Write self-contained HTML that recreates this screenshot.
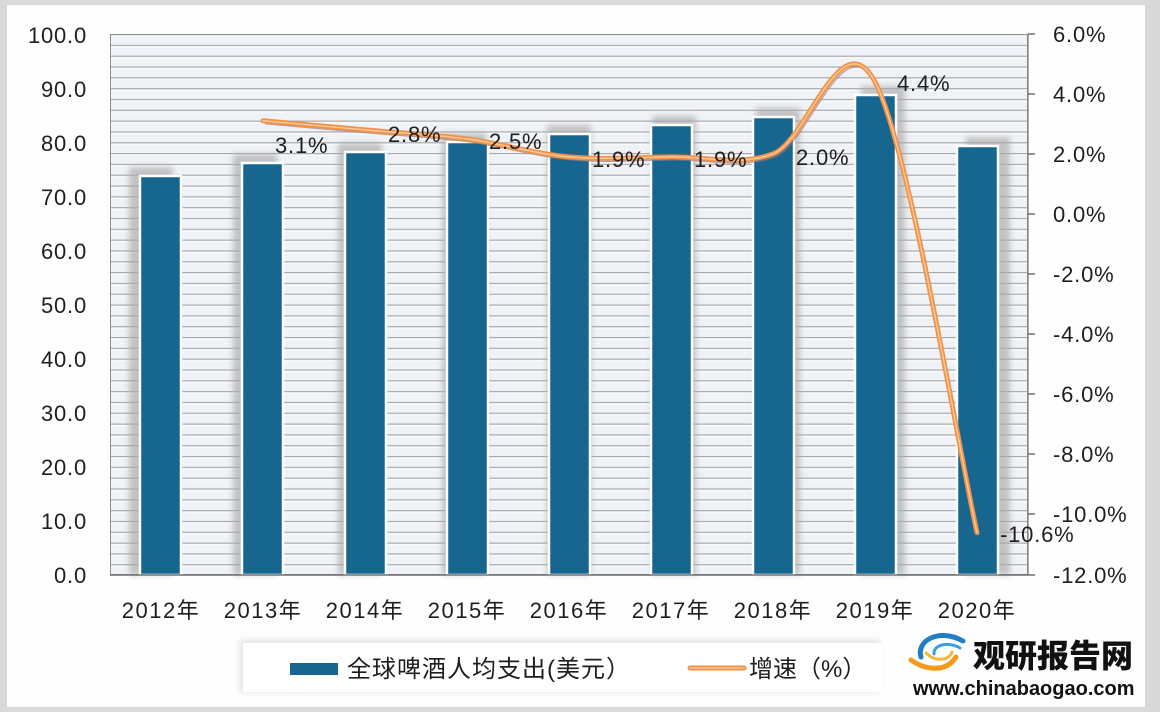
<!DOCTYPE html>
<html>
<head>
<meta charset="utf-8">
<style>
  html, body { margin: 0; padding: 0; background: #d9d9d9; }
  svg { display: block; }
  text { font-family: "Liberation Sans", "Noto Sans CJK SC", sans-serif; fill: #1e1e1e; }
</style>
</head>
<body>
<svg width="1160" height="712" viewBox="0 0 1160 712" xmlns="http://www.w3.org/2000/svg">
  <defs>
    <filter id="blur" x="-50%" y="-10%" width="200%" height="120%">
      <feGaussianBlur stdDeviation="3"/>
    </filter>
    <filter id="lshadow" x="-10%" y="-50%" width="120%" height="200%">
      <feGaussianBlur stdDeviation="3"/>
    </filter>
    <pattern id="grid" x="110" y="34" width="20" height="10.82" patternUnits="userSpaceOnUse">
      <rect width="20" height="10.82" fill="#eff2f6"/>
      <rect y="0" width="20" height="1.3" fill="#a6a8ab"/>
      <rect y="1.3" width="20" height="1.5" fill="#fbfbfc"/>
    </pattern>
  </defs>

  <!-- outer frame + card -->
  <rect x="0" y="0" width="1160" height="712" fill="#d9d9d9"/>
  <rect x="7" y="5" width="1138" height="702" fill="#fefefe"/>

  <!-- plot area -->
  <rect x="110" y="34" width="918" height="541" fill="url(#grid)"/>
  <rect x="110.5" y="34.5" width="917" height="540" fill="none" stroke="#8f9194" stroke-width="1"/>

  <!-- bar shadows -->
  <g fill="#a9a9a9" filter="url(#blur)" opacity="0.65">
    <rect x="129" y="167" width="44" height="408"/>
    <rect x="233" y="154" width="44" height="421"/>
    <rect x="338" y="143" width="44" height="432"/>
    <rect x="442" y="133" width="44" height="442"/>
    <rect x="547" y="125" width="44" height="450"/>
    <rect x="652" y="116" width="44" height="459"/>
    <rect x="756" y="108" width="44" height="467"/>
    <rect x="861" y="86" width="44" height="489"/>
    <rect x="966" y="137" width="44" height="438"/>
  </g>

  <!-- bars -->
  <g fill="#16668f" stroke="#ffffff" stroke-width="2.5">
    <rect x="140" y="176" width="41" height="399"/>
    <rect x="242" y="163" width="41" height="412"/>
    <rect x="345" y="152" width="41" height="423"/>
    <rect x="447" y="142" width="41" height="433"/>
    <rect x="549" y="134" width="41" height="441"/>
    <rect x="651" y="125" width="41" height="450"/>
    <rect x="753" y="117" width="41" height="458"/>
    <rect x="855" y="95" width="41" height="480"/>
    <rect x="957" y="146" width="41" height="429"/>
  </g>

  <!-- bottom axis -->
  <line x1="110" y1="575" x2="1028" y2="575" stroke="#6e6e6e" stroke-width="1.5"/>
  <!-- right axis -->
  <line x1="1028" y1="34" x2="1028" y2="575" stroke="#7d7d7d" stroke-width="1.2"/>
  <g stroke="#6e6e6e" stroke-width="1.5">
    <line x1="1028" y1="34" x2="1035" y2="34"/>
    <line x1="1028" y1="94" x2="1035" y2="94"/>
    <line x1="1028" y1="154" x2="1035" y2="154"/>
    <line x1="1028" y1="214" x2="1035" y2="214"/>
    <line x1="1028" y1="274" x2="1035" y2="274"/>
    <line x1="1028" y1="334" x2="1035" y2="334"/>
    <line x1="1028" y1="394" x2="1035" y2="394"/>
    <line x1="1028" y1="454" x2="1035" y2="454"/>
    <line x1="1028" y1="514" x2="1035" y2="514"/>
    <line x1="1028" y1="575" x2="1035" y2="575"/>
  </g>

  <!-- growth line -->
  <path d="M263,120.8 C280,122.3 331,126.9 365,129.9 C399,132.9 433,134.4 467,138.9 C501,143.4 535,153.9 569,156.9 C603,159.9 637,157.4 671,156.9 C705,156.4 739,166.4 773,153.9 C807,141.4 841,18.7 875,81.8 C909,144.9 960,457.4 977,532.5"
        fill="none" stroke="#9a7b86" stroke-width="1.2" opacity="0.7" transform="translate(2,3)"/>
  <path d="M263,120.8 C280,122.3 331,126.9 365,129.9 C399,132.9 433,134.4 467,138.9 C501,143.4 535,153.9 569,156.9 C603,159.9 637,157.4 671,156.9 C705,156.4 739,166.4 773,153.9 C807,141.4 841,18.7 875,81.8 C909,144.9 960,457.4 977,532.5"
        fill="none" stroke="#f0924a" stroke-width="5" stroke-linecap="round"/>
  <path d="M263,120.8 C280,122.3 331,126.9 365,129.9 C399,132.9 433,134.4 467,138.9 C501,143.4 535,153.9 569,156.9 C603,159.9 637,157.4 671,156.9 C705,156.4 739,166.4 773,153.9 C807,141.4 841,18.7 875,81.8 C909,144.9 960,457.4 977,532.5"
        fill="none" stroke="#fbc894" stroke-width="1.5" stroke-linecap="round"/>

  <!-- data labels -->
  <g font-size="22" letter-spacing="0.8">
    <text x="275" y="153">3.1%</text>
    <text x="388" y="142">2.8%</text>
    <text x="489" y="149">2.5%</text>
    <text x="592" y="167">1.9%</text>
    <text x="694" y="167">1.9%</text>
    <text x="796" y="165">2.0%</text>
    <text x="897" y="91">4.4%</text>
    <text x="1000" y="542">-10.6%</text>
  </g>

  <!-- left axis labels -->
  <g font-size="22" text-anchor="end" letter-spacing="0.8">
    <text x="87" y="43">100.0</text>
    <text x="87" y="97">90.0</text>
    <text x="87" y="151">80.0</text>
    <text x="87" y="205">70.0</text>
    <text x="87" y="259">60.0</text>
    <text x="87" y="313">50.0</text>
    <text x="87" y="367">40.0</text>
    <text x="87" y="421">30.0</text>
    <text x="87" y="475">20.0</text>
    <text x="87" y="529">10.0</text>
    <text x="87" y="583">0.0</text>
  </g>

  <!-- right axis labels -->
  <g font-size="22" letter-spacing="0.8">
    <text x="1053" y="42">6.0%</text>
    <text x="1053" y="102">4.0%</text>
    <text x="1053" y="162">2.0%</text>
    <text x="1053" y="222">0.0%</text>
    <text x="1053" y="282">-2.0%</text>
    <text x="1053" y="342">-4.0%</text>
    <text x="1053" y="402">-6.0%</text>
    <text x="1053" y="462">-8.0%</text>
    <text x="1053" y="522">-10.0%</text>
    <text x="1053" y="583">-12.0%</text>
  </g>

  <!-- x axis labels -->
  <g font-size="22" text-anchor="middle" letter-spacing="1.5">
    <text x="161" y="618">2012年</text>
    <text x="263" y="618">2013年</text>
    <text x="365" y="618">2014年</text>
    <text x="467" y="618">2015年</text>
    <text x="569" y="618">2016年</text>
    <text x="671" y="618">2017年</text>
    <text x="773" y="618">2018年</text>
    <text x="875" y="618">2019年</text>
    <text x="977" y="618">2020年</text>
  </g>

  <!-- legend -->
  <rect x="240" y="640" width="640" height="52" fill="#cfcfcf" filter="url(#lshadow)" opacity="0.6"/>
  <rect x="243" y="643" width="640" height="49" fill="#ffffff"/>
  <rect x="290" y="663" width="48" height="12" fill="#16668f"/>
  <text x="347" y="677" font-size="24" letter-spacing="1">全球啤酒人均支出(美元）</text>
  <line x1="690" y1="668" x2="744" y2="668" stroke="#f0924a" stroke-width="5" stroke-linecap="round"/>
  <line x1="690" y1="668" x2="744" y2="668" stroke="#fbc894" stroke-width="1.5" stroke-linecap="round"/>
  <text x="749" y="677" font-size="24">增速（%）</text>

  <!-- watermark logo -->
  <g fill="none" stroke-linecap="round">
    <path d="M921,657 C916,640 940,628 963,641" stroke="#1f7fc4" stroke-width="5"/>
    <path d="M934,654 C933,645 948,641 960,648" stroke="#3aa0dc" stroke-width="3"/>
    <path d="M911,660 C925,670 946,673 956,657" stroke="#f29a1e" stroke-width="5"/>
    <path d="M926,653 C935,662 949,661 952,652" stroke="#f7b733" stroke-width="3"/>
  </g>
  <text x="973" y="667" font-size="32" font-weight="900" font-family="'Noto Sans CJK SC', 'WenQuanYi Zen Hei', sans-serif" style="fill:#111">观研报告网</text>
  <text x="913" y="695" font-size="20" font-weight="bold" style="fill:#111">www.chinabaogao.com</text>
</svg>
</body>
</html>
